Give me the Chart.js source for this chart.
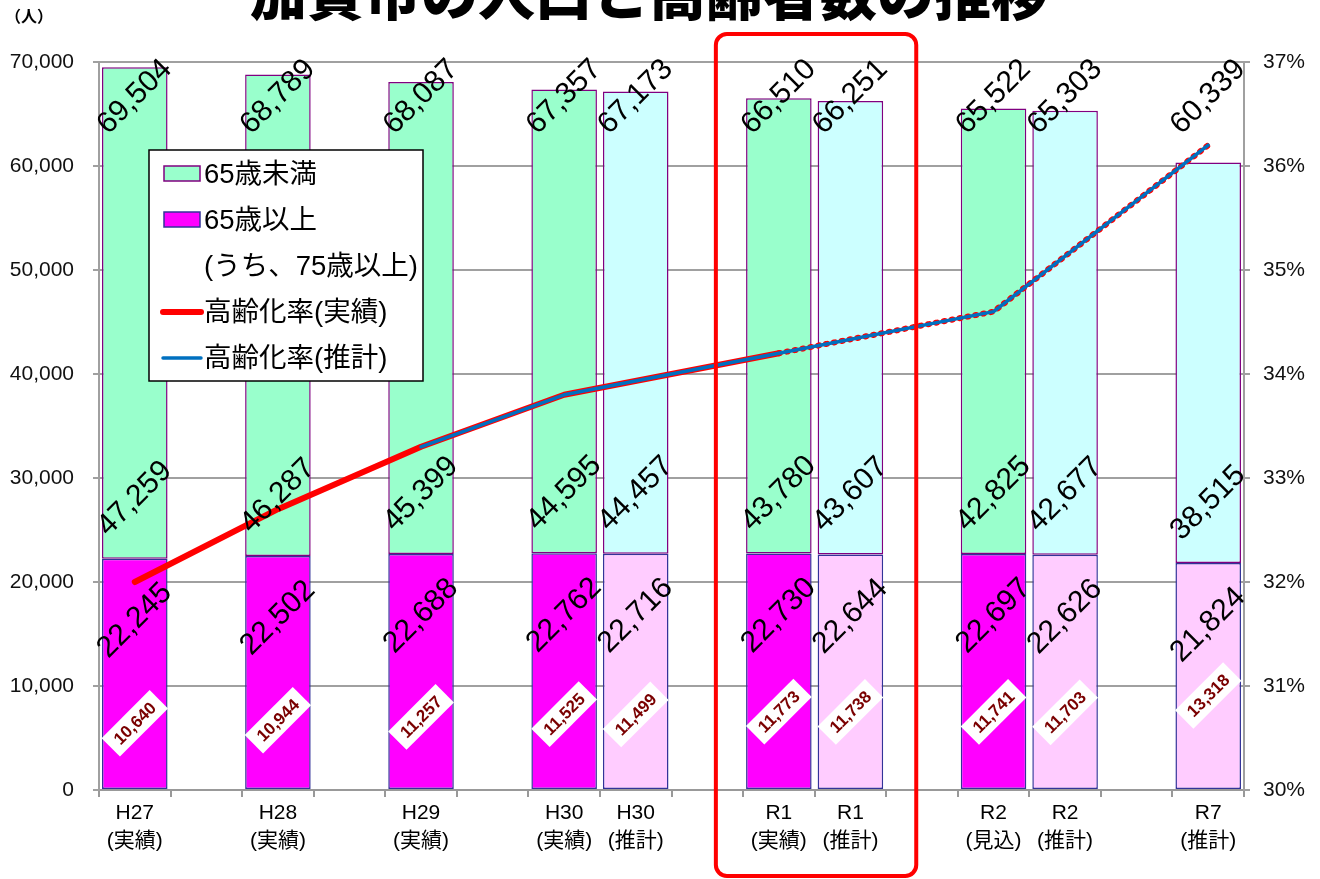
<!DOCTYPE html>
<html>
<head>
<meta charset="utf-8">
<script src="https://cdn.jsdelivr.net/npm/chart.js@4.4.1/dist/chart.umd.min.js"></script>
<style>
  html, body { margin: 0; padding: 0; background: #fff; overflow: hidden; }
  #wrap { position: relative; width: 1320px; height: 879px; overflow: hidden; }
  #title {
    position: absolute; left: 250px; top: -38px; white-space: nowrap;
    font-family: "Noto Sans CJK JP", sans-serif; font-weight: 900;
    font-size: 57px; line-height: 1; color: #000;
  }
  #unit {
    position: absolute; left: 5px; top: 3px;
    font-family: "Noto Sans CJK JP", sans-serif; font-size: 16px; font-weight: bold; color: #000;
  }
  #chart { position: absolute; left: 0; top: 0; }
</style>
</head>
<body>
<div id="wrap">
  <canvas id="chart" width="1320" height="879"></canvas>
  <div id="title">加賀市の人口と高齢者数の推移</div>
  <div id="unit">（人）</div>
</div>
<script>
// 16 slots on the category axis, blanks are the gaps between groups
var categories = [
  ['H27', '(実績)'], '', ['H28', '(実績)'], '', ['H29', '(実績)'], '',
  ['H30', '(実績)'], ['H30', '(推計)'], '',
  ['R1', '(実績)'], ['R1', '(推計)'], '',
  ['R2', '(見込)'], ['R2', '(推計)'], '', ['R7', '(推計)']
];
var isEstimate = [false, false, false, false, false, false, false, true, false, false, true, false, false, true, false, true];

var age65over = [22245, null, 22502, null, 22688, null, 22762, 22716, null, 22730, 22644, null, 22697, 22626, null, 21824];
var under65   = [47259, null, 46287, null, 45399, null, 44595, 44457, null, 43780, 43607, null, 42825, 42677, null, 38515];
var totals    = [69504, null, 68789, null, 68087, null, 67357, 67173, null, 66510, 66251, null, 65522, 65303, null, 60339];
var age75over = [10640, null, 10944, null, 11257, null, 11525, 11499, null, 11773, 11738, null, 11741, 11703, null, 13318];

// 高齢化率 (%)
var rateActual   = [32.0, null, 32.7, null, 33.3, null, 33.8, null, null, 34.2, null, null, null, null, null, null];
var rateEstimate = [null, null, null, null, 33.3, null, 33.8, null, null, 34.2, null, null, 34.6, null, null, 36.2];
var rateOutlook  = [null, null, null, null, null, null, null, null, null, 34.2, null, null, 34.6, null, null, 36.2];

var yTicks = [0, 10000, 20000, 30000, 40000, 50000, 60000, 70000];
var y2Ticks = [30, 31, 32, 33, 34, 35, 36, 37];

var highlight = [9, 10]; // R1 columns

var NUM_FONT = '"Liberation Sans", Arial, "Noto Sans CJK JP", sans-serif';

function fmt(v) { return v.toLocaleString('en-US'); }

function rotText(ctx, text, x, y, font, color) {
  ctx.save();
  ctx.translate(x, y);
  ctx.rotate(-Math.PI / 4);
  ctx.font = font;
  ctx.fillStyle = color;
  ctx.textAlign = 'center';
  ctx.textBaseline = 'middle';
  ctx.fillText(text, 0, 0);
  ctx.restore();
}

var labelPlugin = {
  id: 'barLabels',
  afterDatasetsDraw: function (chart) {
    var ctx = chart.ctx;
    var lower = chart.getDatasetMeta(0);
    var ys = chart.scales.y;
    var top = chart.chartArea.top;
    lower.data.forEach(function (bar, i) {
      if (age65over[i] == null) return;
      var x = bar.x;
      rotText(ctx, fmt(totals[i]), x, top + 35, '30px ' + NUM_FONT, '#000');
      rotText(ctx, fmt(under65[i]), x, bar.y - 60, '30px ' + NUM_FONT, '#000');
      rotText(ctx, fmt(age65over[i]), x, bar.y + 62, '30px ' + NUM_FONT, '#000');
      // 75歳以上 in white box
      var by = ys.getPixelForValue(age75over[i]) + 44;
      ctx.save();
      ctx.translate(x, by);
      ctx.rotate(-Math.PI / 4);
      ctx.font = 'bold 17px ' + NUM_FONT;
      var w = ctx.measureText(fmt(age75over[i])).width + 16;
      ctx.fillStyle = '#fff';
      ctx.fillRect(-w / 2, -13, w, 26);
      ctx.fillStyle = '#7a0000';
      ctx.textAlign = 'center';
      ctx.textBaseline = 'middle';
      ctx.fillText(fmt(age75over[i]), 0, 1);
      ctx.restore();
    });
  }
};

var overlayPlugin = {
  id: 'overlay',
  afterDraw: function (chart) {
    var ctx = chart.ctx;
    var area = chart.chartArea;
    var xs = chart.scales.x;
    var slot = xs.getPixelForValue(1) - xs.getPixelForValue(0);

    // legend
    var lx = area.left + 50, ly = area.top + 88, lw = 274, lh = 231;
    ctx.save();
    ctx.fillStyle = '#fff';
    ctx.fillRect(lx, ly, lw, lh);
    ctx.strokeStyle = '#000';
    ctx.lineWidth = 1.5;
    ctx.strokeRect(lx, ly, lw, lh);
    var items = [
      { text: '65歳未満', kind: 'box', fill: '#99ffcc', stroke: '#800080' },
      { text: '65歳以上', kind: 'box', fill: '#ff00ff', stroke: '#333399' },
      { text: '(うち、75歳以上)', kind: 'none' },
      { text: '高齢化率(実績)', kind: 'line', stroke: '#ff0000', width: 6 },
      { text: '高齢化率(推計)', kind: 'line', stroke: '#0070c0', width: 3.5 }
    ];
    ctx.font = '27.5px ' + NUM_FONT;
    ctx.textBaseline = 'middle';
    items.forEach(function (it, i) {
      var cy = ly + 24 + i * 46;
      if (it.kind === 'box') {
        ctx.fillStyle = it.fill;
        ctx.fillRect(lx + 15, cy - 8, 36, 15);
        ctx.strokeStyle = it.stroke;
        ctx.lineWidth = 1.5;
        ctx.strokeRect(lx + 15, cy - 8, 36, 15);
      } else if (it.kind === 'line') {
        ctx.strokeStyle = it.stroke;
        ctx.lineWidth = it.width;
        ctx.lineCap = 'round';
        ctx.beginPath();
        ctx.moveTo(lx + 14, cy);
        ctx.lineTo(lx + 52, cy);
        ctx.stroke();
      }
      ctx.fillStyle = '#000';
      ctx.fillText(it.text, lx + 55, cy + 1);
    });
    ctx.restore();

    // red frame around R1
    var x0 = xs.getPixelForValue(highlight[0]) - slot * 0.88;
    var x1 = xs.getPixelForValue(highlight[1]) + slot * 0.92;
    var y0 = area.top - 28, y1 = chart.height - 3;
    ctx.save();
    ctx.strokeStyle = '#ff0000';
    ctx.lineWidth = 4;
    ctx.beginPath();
    ctx.roundRect(x0, y0, x1 - x0, y1 - y0, 11);
    ctx.stroke();
    ctx.restore();
  }
};

var lowerColors = isEstimate.map(function (e) { return e ? '#ffccff' : '#ff00ff'; });
var upperColors = isEstimate.map(function (e) { return e ? '#ccffff' : '#99ffcc'; });

var chart = new Chart(document.getElementById('chart').getContext('2d'), {
  type: 'bar',
  data: {
    labels: categories,
    datasets: [
      {
        label: '65歳以上', data: age65over, backgroundColor: lowerColors,
        borderColor: '#333399', borderWidth: 1.5, borderSkipped: false,
        barPercentage: 0.916, categoryPercentage: 1, order: 10, yAxisID: 'y'
      },
      {
        label: '65歳未満', data: under65, backgroundColor: upperColors,
        borderColor: '#800080', borderWidth: 1.5, borderSkipped: false,
        barPercentage: 0.916, categoryPercentage: 1, order: 10, yAxisID: 'y'
      },
      {
        type: 'line', label: '高齢化率(推計)', data: rateEstimate, yAxisID: 'y2',
        borderColor: '#0070c0', borderWidth: 3.5, pointRadius: 0, spanGaps: true,
        tension: 0, order: 1, borderCapStyle: 'round', borderJoinStyle: 'round'
      },
      {
        type: 'line', label: '高齢化率(見込)', data: rateOutlook, yAxisID: 'y2',
        borderColor: '#ff0000', borderWidth: 6, borderDash: [1, 7], pointRadius: 0,
        spanGaps: true, tension: 0, order: 2, borderCapStyle: 'round'
      },
      {
        type: 'line', label: '高齢化率(実績)', data: rateActual, yAxisID: 'y2',
        borderColor: '#ff0000', borderWidth: 6, pointRadius: 0, spanGaps: true,
        tension: 0, order: 3, borderCapStyle: 'round', borderJoinStyle: 'round'
      }
    ]
  },
  options: {
    responsive: false,
    animation: false,
    devicePixelRatio: 1,
    layout: { padding: { top: 62, left: 0, right: 0, bottom: 0 } },
    plugins: {
      legend: { display: false },
      tooltip: { enabled: false },
      title: { display: false }
    },
    scales: {
      x: {
        stacked: true,
        offset: true,
        grid: { offset: true, drawOnChartArea: false, color: '#999', lineWidth: 2, tickLength: 7 },
        border: { color: '#999', width: 2 },
        ticks: {
          autoSkip: false, maxRotation: 0, minRotation: 0, padding: 3, color: '#000',
          font: { family: NUM_FONT, size: 21, lineHeight: 1.3 }
        },
        afterFit: function (s) { s.height = 89; }
      },
      y: {
        stacked: true,
        min: yTicks[0], max: yTicks[yTicks.length - 1],
        afterBuildTicks: function (s) { s.ticks = yTicks.map(function (v) { return { value: v }; }); },
        grid: { color: '#a0a0a0', lineWidth: 2, tickLength: 6 },
        border: { color: '#a0a0a0', width: 2 },
        ticks: {
          padding: 19, color: '#111',
          font: { family: NUM_FONT, size: 21 },
          callback: function (v) { return fmt(v); }
        },
        afterFit: function (s) { s.width = 99; }
      },
      y2: {
        position: 'right',
        min: y2Ticks[0], max: y2Ticks[y2Ticks.length - 1],
        afterBuildTicks: function (s) { s.ticks = y2Ticks.map(function (v) { return { value: v }; }); },
        grid: { drawOnChartArea: false, color: '#a0a0a0', lineWidth: 2, tickLength: 6 },
        border: { color: '#a0a0a0', width: 2 },
        ticks: {
          padding: 13, color: '#111',
          font: { family: NUM_FONT, size: 21 },
          callback: function (v) { return v + '%'; }
        },
        afterFit: function (s) { s.width = 76; }
      }
    }
  },
  plugins: [labelPlugin, overlayPlugin]
});
</script>
</body>
</html>
